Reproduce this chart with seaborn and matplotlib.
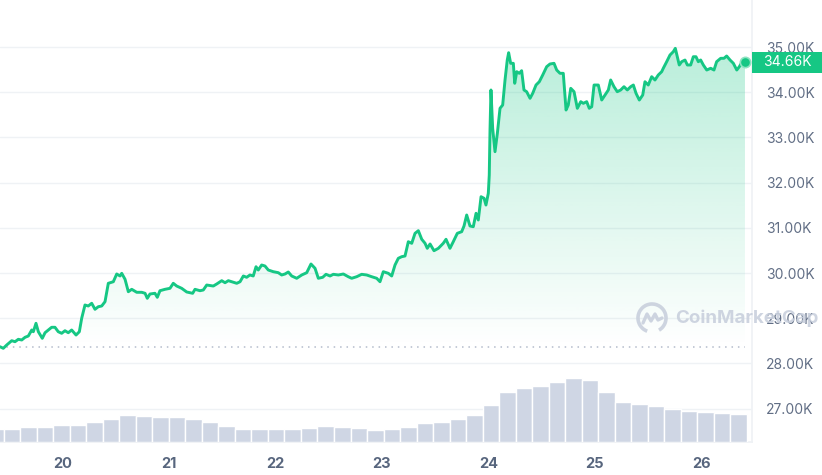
"""
BTC 7 天价格走势 (CoinMarketCap 风格) - 价格折线 + 渐变填充 + 成交量柱
"""

import numpy as np
import matplotlib
matplotlib.use('Agg')
import matplotlib.pyplot as plt
import matplotlib.colors as mcolors
import matplotlib.transforms as mtransforms
from matplotlib.patches import Polygon, Rectangle, Arc
import seaborn as sns

sns.set_theme(style='white')
plt.rcParams['font.family'] = ['Inter', 'DejaVu Sans']

# ---------------------------------------------------------------------
# data
# ---------------------------------------------------------------------
days = [
    19.415, 19.446, 19.478, 19.525, 19.556, 19.587, 19.619, 19.650, 19.681, 19.713,
    19.728, 19.753, 19.775, 19.812, 19.838, 19.900, 19.931, 19.962, 19.994, 20.025,
    20.056, 20.088, 20.129, 20.160, 20.182, 20.213, 20.244, 20.276, 20.307, 20.338,
    20.370, 20.401, 20.432, 20.479, 20.511, 20.542, 20.558, 20.589, 20.620, 20.652,
    20.699, 20.746, 20.777, 20.798, 20.823, 20.870, 20.892, 20.917, 20.964, 21.011,
    21.042, 21.074, 21.121, 21.168, 21.224, 21.246, 21.293, 21.324, 21.356, 21.418,
    21.450, 21.497, 21.528, 21.559, 21.591, 21.638, 21.669, 21.700, 21.731, 21.762,
    21.793, 21.819, 21.840, 21.872, 21.903, 21.934, 21.981, 22.028, 22.060, 22.091,
    22.122, 22.154, 22.201, 22.248, 22.295, 22.335, 22.373, 22.404, 22.445, 22.476,
    22.514, 22.545, 22.592, 22.639, 22.685, 22.717, 22.764, 22.811, 22.858, 22.905,
    22.952, 22.983, 23.014, 23.061, 23.093, 23.124, 23.155, 23.187, 23.218, 23.249,
    23.281, 23.312, 23.343, 23.375, 23.406, 23.427, 23.453, 23.490, 23.531, 23.577,
    23.603, 23.640, 23.671, 23.709, 23.750, 23.772, 23.797, 23.828, 23.859, 23.885,
    23.906, 23.932, 23.960, 23.978, 24.000, 24.009, 24.016, 24.025, 24.041, 24.063,
    24.085, 24.110, 24.135, 24.157, 24.178, 24.191, 24.210, 24.235, 24.248, 24.267,
    24.291, 24.313, 24.335, 24.360, 24.392, 24.417, 24.448, 24.479, 24.511, 24.548,
    24.579, 24.617, 24.642, 24.673, 24.704, 24.730, 24.751, 24.774, 24.805, 24.836,
    24.868, 24.892, 24.924, 24.948, 24.971, 24.993, 25.033, 25.065, 25.096, 25.127,
    25.149, 25.180, 25.211, 25.243, 25.274, 25.305, 25.337, 25.362, 25.387, 25.418,
    25.450, 25.471, 25.502, 25.534, 25.565, 25.596, 25.628, 25.643, 25.675, 25.706,
    25.737, 25.756, 25.775, 25.793, 25.816, 25.847, 25.869, 25.900, 25.925, 25.950,
    25.972, 25.994, 26.019, 26.051, 26.088, 26.119, 26.144, 26.182, 26.213, 26.238,
    26.270, 26.301, 26.333, 26.357, 26.389, 26.410,
]
prices = [
    28369, 28334, 28407, 28502, 28480, 28533, 28518, 28577, 28606, 28739,
    28701, 28887, 28701, 28555, 28679, 28799, 28799, 28701, 28666, 28723,
    28679, 28739, 28628, 28701, 28998, 29292, 29270, 29330, 29197, 29254,
    29270, 29365, 29772, 29807, 29978, 29934, 29993, 29861, 29586, 29639,
    29573, 29573, 29551, 29440, 29535, 29551, 29462, 29608, 29639, 29661,
    29772, 29712, 29661, 29580, 29551, 29639, 29608, 29624, 29734, 29712,
    29757, 29830, 29785, 29830, 29807, 29772, 29807, 29934, 29905, 29956,
    29934, 30139, 30066, 30177, 30155, 30066, 30029, 30007, 29956, 29978,
    30022, 29934, 29883, 29956, 30007, 30199, 30104, 29883, 29905, 29971,
    29934, 29971, 29956, 29978, 29918, 29883, 29918, 29971, 29956, 29918,
    29883, 29807, 30029, 29993, 29934, 30177, 30325, 30361, 30376, 30692,
    30657, 30878, 30936, 30746, 30657, 30546, 30642, 30493, 30546, 30657,
    30746, 30546, 30692, 30878, 30914, 31040, 31283, 31040, 31024, 31321,
    31173, 31688, 31653, 31504, 31763, 32168, 33164, 34049, 33201, 32684,
    33091, 33644, 33717, 34270, 34712, 34874, 34639, 34639, 34197, 34454,
    34418, 34476, 34049, 34011, 33865, 33976, 34159, 34232, 34381, 34564,
    34624, 34639, 34491, 34418, 34418, 33606, 33717, 34086, 34011, 33644,
    33790, 33754, 33790, 33644, 33679, 34159, 34159, 33827, 33938, 34049,
    34270, 34122, 34011, 34049, 34122, 34049, 34122, 34159, 33976, 33827,
    33938, 34232, 34159, 34343, 34270, 34381, 34454, 34529, 34675, 34823,
    34896, 34971, 34785, 34602, 34675, 34712, 34602, 34602, 34785, 34785,
    34675, 34712, 34602, 34491, 34529, 34491, 34675, 34750, 34750, 34801,
    34712, 34639, 34491, 34564, 34697, 34660,
]
open_price = 28369
last_price = 34660

# 成交量 (十亿美元, 估计值), 等间隔柱
volume = [
    6.35, 6.35, 7.5, 7.65, 8.5, 8.75, 10.0, 11.75, 13.5, 13.15,
    12.65, 12.35, 11.5, 10.15, 8.0, 6.35, 6.65, 6.65, 6.65, 7.15,
    7.85, 7.5, 7.15, 6.0, 6.35, 7.65, 9.35, 10.15, 11.35, 13.5,
    18.5, 25.0, 27.0, 28.25, 30.15, 32.0, 31.0, 25.0, 20.15, 18.85,
    18.0, 16.35, 15.65, 14.85, 14.35, 13.85,
]
vol_first, vol_last = 19.375, 26.347

x_ticks = [20, 21, 22, 23, 24, 25, 26]
y_ticks = [27000, 28000, 29000, 30000, 31000, 32000, 33000, 34000, 35000]

GREEN = '#16c784'
GRID = '#eff2f5'
VOL = '#cfd6e4'
LABEL = '#616e85'

# ---------------------------------------------------------------------
fig = plt.figure(figsize=(8.22, 4.75), dpi=100)
rect = [0, 33 / 475, 752 / 822, 442 / 475]
ax = fig.add_axes(rect)
ax_vol = fig.add_axes(rect, sharex=ax)
ax_vol.patch.set_alpha(0)

# 价格线
sns.lineplot(x=days, y=prices, ax=ax, color=GREEN, linewidth=2.1, zorder=4)
ax.scatter([days[-1]], [prices[-1]], s=55, color=GREEN, edgecolor='#8fe3c2',
           linewidth=1.2, zorder=5)

# 渐变填充
poly = np.column_stack([np.r_[days, days[-1], days[0]],
                        np.r_[prices, open_price, open_price]])
clip = Polygon(poly, closed=True, facecolor='none', edgecolor='none')
ax.add_patch(clip)
grad = np.zeros((256, 1, 4))
grad[..., :3] = mcolors.to_rgb(GREEN)
grad[:, 0, 3] = np.linspace(0.30, 0.0, 256)
im = ax.imshow(grad, aspect='auto', origin='upper', zorder=2,
               extent=[days[0], days[-1], open_price, max(prices)])
im.set_clip_path(clip)

# 开盘价虚线
ax.axhline(open_price, xmax=(days[-1] - 19.415) / (26.476 - 19.415),
           color='#b4bccb', linestyle=(0, (1, 3.2)), linewidth=1.1, zorder=3)

ax.set_xlim(19.415, 26.476)
ax.set_ylim(26261, 36040)

ax.yaxis.tick_right()
ax.set_yticks(y_ticks)
ax.set_yticklabels([f'{v / 1000:.2f}K' for v in y_ticks])
ax.tick_params(axis='y', length=0, pad=10, labelsize=10, labelcolor=LABEL)
ax.grid(axis='y', color=GRID, linewidth=1)

ax.set_xticks(x_ticks)
ax.set_xticklabels([str(d) for d in x_ticks])
ax.tick_params(axis='x', length=4, width=1, color='#e3e7ee', pad=7,
               labelsize=10.5, labelcolor='#58667e')
for lab in ax.get_xticklabels():
    lab.set_fontweight('bold')

for s in ['top', 'left']:
    ax.spines[s].set_visible(False)
ax.spines['right'].set_color(GRID)
ax.spines['bottom'].set_color(GRID)

# 成交量柱
vol_x = np.linspace(vol_first, vol_last, len(volume))
ax_vol.bar(vol_x, volume, width=(vol_last - vol_first) / (len(volume) - 1),
           color=VOL, edgecolor='white', linewidth=1.0)
ax_vol.set_ylim(0, 221)
ax_vol.axis('off')

# 当前价格标签
blend = mtransforms.blended_transform_factory(fig.transFigure, ax.transData)
ax.add_patch(Rectangle((752 / 822, last_price - 232), 70 / 822, 464,
                       transform=blend, facecolor=GREEN, edgecolor='none',
                       clip_on=False, zorder=6))
ax.text(763 / 822, last_price, f'{last_price / 1000:.2f}K', transform=blend,
        ha='left', va='center', color='white', fontsize=10, zorder=7)

# 水印
wm = '#c9d0dd'
fig.text(675 / 822, (475 - 318) / 475, 'CoinMarketCap', ha='left', va='center',
         fontsize=13.5, fontweight='bold', color=wm, alpha=0.9, zorder=10)
cx, cy = 6.52, 1.57
fig.add_artist(Arc((cx, cy), 0.28, 0.28, theta1=-60, theta2=250,
                   transform=fig.dpi_scale_trans, color=wm, linewidth=2.6,
                   alpha=0.9, zorder=10))
wave = [(-0.09, -0.05), (-0.05, 0.04), (-0.01, -0.03), (0.03, 0.04),
        (0.06, -0.02), (0.10, 0.0)]
fig.add_artist(plt.Line2D([cx + p[0] for p in wave], [cy + p[1] for p in wave],
                          transform=fig.dpi_scale_trans, color=wm,
                          linewidth=2.4, alpha=0.9, zorder=10,
                          solid_joinstyle='round'))

fig.savefig('out.png', dpi=100)
